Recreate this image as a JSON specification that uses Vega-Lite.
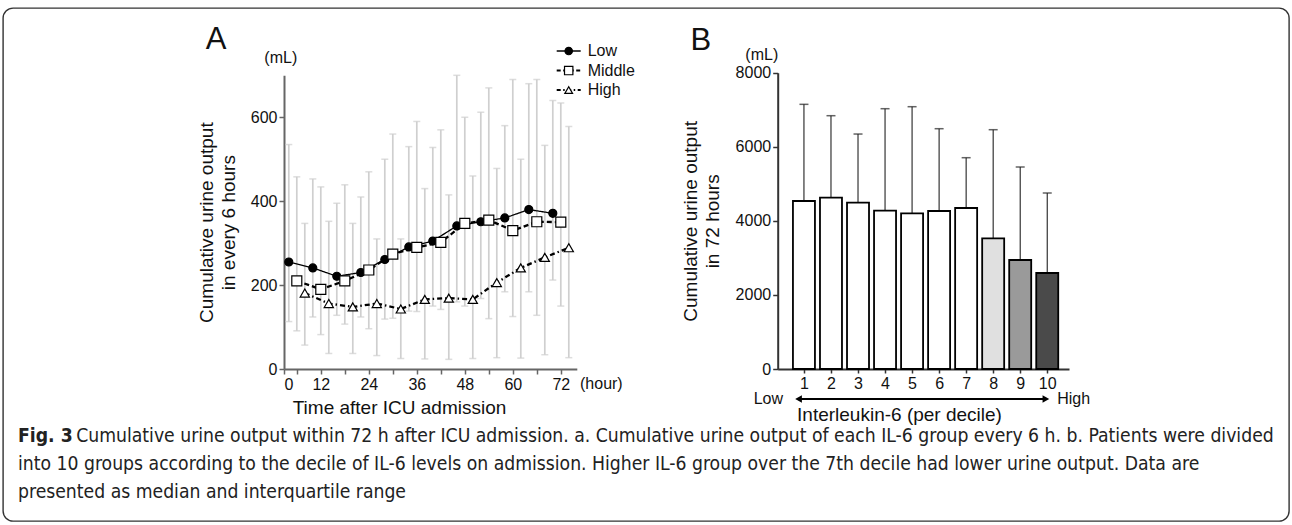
{
  "$schema": "https://vega.github.io/schema/vega-lite/v6.json",
  "width": 1286,
  "height": 513,
  "autosize": "none",
  "padding": {"left": 3, "top": 8, "right": 3, "bottom": 4},
  "background": "white",
  "config": {
    "view": {"stroke": "#333333", "strokeWidth": 1.4, "cornerRadius": 10, "fill": "white"},
    "font": "Liberation Sans",
    "axis": {
      "labelFont": "Liberation Sans", "labelFontSize": 16, "labelColor": "#111111",
      "titleFont": "Liberation Sans", "titleFontSize": 19, "titleFontWeight": "normal", "titleColor": "#111111",
      "grid": false, "tickColor": "#333333", "domainColor": "#333333", "domainWidth": 2, "tickWidth": 1.5, "tickSize": 5,
      "titleLineHeight": 22
    }
  },
  "datasets": {
    "timecourse": [
      {"group": "Low", "hour": 4, "median": 255, "lo": 113, "hi": 535},
      {"group": "Low", "hour": 10, "median": 241, "lo": 124, "hi": 453},
      {"group": "Low", "hour": 16, "median": 221, "lo": 128, "hi": 395},
      {"group": "Low", "hour": 22, "median": 230, "lo": 124, "hi": 410},
      {"group": "Low", "hour": 28, "median": 261, "lo": 119, "hi": 500},
      {"group": "Low", "hour": 34, "median": 291, "lo": 138, "hi": 530},
      {"group": "Low", "hour": 40, "median": 305, "lo": 150, "hi": 528},
      {"group": "Low", "hour": 46, "median": 341, "lo": 160, "hi": 700},
      {"group": "Low", "hour": 52, "median": 351, "lo": 168, "hi": 612},
      {"group": "Low", "hour": 58, "median": 360, "lo": 184, "hi": 580},
      {"group": "Low", "hour": 64, "median": 380, "lo": 184, "hi": 680},
      {"group": "Low", "hour": 70, "median": 371, "lo": 212, "hi": 640},
      {"group": "Middle", "hour": 6, "median": 210, "lo": 91, "hi": 458},
      {"group": "Middle", "hour": 12, "median": 190, "lo": 82, "hi": 434},
      {"group": "Middle", "hour": 18, "median": 210, "lo": 107, "hi": 439},
      {"group": "Middle", "hour": 24, "median": 236, "lo": 96, "hi": 470},
      {"group": "Middle", "hour": 30, "median": 274, "lo": 121, "hi": 560},
      {"group": "Middle", "hour": 36, "median": 290, "lo": 137, "hi": 590},
      {"group": "Middle", "hour": 42, "median": 302, "lo": 142, "hi": 570},
      {"group": "Middle", "hour": 48, "median": 347, "lo": 150, "hi": 600},
      {"group": "Middle", "hour": 54, "median": 355, "lo": 120, "hi": 670},
      {"group": "Middle", "hour": 60, "median": 330, "lo": 125, "hi": 690},
      {"group": "Middle", "hour": 66, "median": 351, "lo": 128, "hi": 690},
      {"group": "Middle", "hour": 72, "median": 350, "lo": 150, "hi": 634},
      {"group": "High", "hour": 8, "median": 181, "lo": 57, "hi": 347},
      {"group": "High", "hour": 14, "median": 156, "lo": 37, "hi": 352},
      {"group": "High", "hour": 20, "median": 148, "lo": 37, "hi": 347},
      {"group": "High", "hour": 26, "median": 156, "lo": 32, "hi": 310},
      {"group": "High", "hour": 32, "median": 143, "lo": 25, "hi": 310},
      {"group": "High", "hour": 38, "median": 166, "lo": 24, "hi": 430},
      {"group": "High", "hour": 44, "median": 169, "lo": 23, "hi": 415},
      {"group": "High", "hour": 50, "median": 166, "lo": 25, "hi": 460},
      {"group": "High", "hour": 56, "median": 206, "lo": 27, "hi": 478},
      {"group": "High", "hour": 62, "median": 241, "lo": 26, "hi": 500},
      {"group": "High", "hour": 68, "median": 266, "lo": 34, "hi": 533},
      {"group": "High", "hour": 74, "median": 289, "lo": 27, "hi": 578}
    ],
    "groups": [
      {"group": "Low"},
      {"group": "Middle"},
      {"group": "High"}
    ],
    "decile": [
      {"decile": 1, "median": 4536, "upper": 7146},
      {"decile": 2, "median": 4626, "upper": 6839},
      {"decile": 3, "median": 4490, "upper": 6344},
      {"decile": 4, "median": 4275, "upper": 7028},
      {"decile": 5, "median": 4203, "upper": 7082},
      {"decile": 6, "median": 4266, "upper": 6488},
      {"decile": 7, "median": 4347, "upper": 5705},
      {"decile": 8, "median": 3528, "upper": 6461},
      {"decile": 9, "median": 2943, "upper": 5454},
      {"decile": 10, "median": 2592, "upper": 4752}
    ],
    "caption": [
      {"line": 2, "text": "into 10 groups according to the decile of IL-6 levels on admission. Higher IL-6 group over the 7th decile had lower urine output. Data are"},
      {"line": 3, "text": "presented as median and interquartile range"}
    ]
  },
  "layer": [
    {
      "data": {"name": "timecourse"},
      "layer": [
        {
          "mark": {"type": "rule", "color": "#cfcfcf", "strokeWidth": 1.7},
          "encoding": {
            "x": {
              "field": "hour", "type": "quantitative",
              "scale": {"domain": [2.8, 76], "range": [281, 573.8], "nice": false, "zero": false},
              "axis": {
                "orient": "bottom", "offset": -152,
                "values": [2.8, 6, 12, 18, 24, 30, 36, 42, 48, 54, 60, 66, 72],
                "labelExpr": "datum.value < 3 ? '0' : (datum.value % 12 === 0 ? datum.label : '')",
                "title": "Time after ICU admission", "titleX": 396, "titlePadding": 6,
                "domainColor": "#666666", "tickColor": "#666666"
              }
            },
            "y": {
              "field": "lo", "type": "quantitative",
              "scale": {"domain": [0, 700], "range": [361, 67.3], "nice": false},
              "axis": {
                "orient": "left", "offset": -281, "values": [0, 200, 400, 600],
                "title": ["Cumulative urine output", "in every 6 hours"], "titlePadding": 12,
                "domainColor": "#666666", "tickColor": "#666666"
              }
            },
            "y2": {"field": "hi"}
          }
        },
        {
          "mark": {"type": "tick", "orient": "horizontal", "color": "#cfcfcf", "size": 7, "thickness": 1.5},
          "encoding": {
            "x": {"field": "hour", "type": "quantitative"},
            "y": {"field": "hi", "type": "quantitative"}
          }
        },
        {
          "mark": {"type": "tick", "orient": "horizontal", "color": "#cfcfcf", "size": 7, "thickness": 1.5},
          "encoding": {
            "x": {"field": "hour", "type": "quantitative"},
            "y": {"field": "lo", "type": "quantitative"}
          }
        },
        {
          "mark": {"type": "line", "color": "black"},
          "encoding": {
            "x": {"field": "hour", "type": "quantitative"},
            "y": {"field": "median", "type": "quantitative"},
            "detail": {"field": "group", "type": "nominal"},
            "strokeDash": {
              "condition": [
                {"test": "datum.group === 'Middle'", "value": [5, 3]},
                {"test": "datum.group === 'High'", "value": [5, 3, 1.5, 3]}
              ],
              "value": [1, 0]
            },
            "strokeWidth": {"condition": {"test": "datum.group === 'Low'", "value": 1.3}, "value": 2.3}
          }
        },
        {
          "mark": {"type": "point", "filled": true, "stroke": "black", "strokeWidth": 1.2, "opacity": 1},
          "encoding": {
            "x": {"field": "hour", "type": "quantitative"},
            "y": {"field": "median", "type": "quantitative"},
            "shape": {
              "field": "group", "type": "nominal",
              "scale": {"domain": ["Low", "Middle", "High"], "range": ["circle", "square", "triangle-up"]},
              "legend": null
            },
            "fill": {"condition": {"test": "datum.group === 'Low'", "value": "black"}, "value": "white"},
            "size": {"condition": [
              {"test": "datum.group === 'Low'", "value": 64},
              {"test": "datum.group === 'Middle'", "value": 100}
            ], "value": 85}
          }
        },
        {
          "data": {"values": [{}]},
          "mark": {"type": "text", "fontSize": 31, "font": "Liberation Sans", "color": "#111111", "align": "center", "baseline": "middle"},
          "encoding": {"x": {"datum": -14.2}, "y": {"datum": 783}, "text": {"value": "A"}}
        },
        {
          "data": {"values": [{}]},
          "mark": {"type": "text", "fontSize": 16, "font": "Liberation Sans", "color": "#111111", "align": "center", "baseline": "middle"},
          "encoding": {"x": {"datum": 2.0}, "y": {"datum": 742}, "text": {"value": "(mL)"}}
        },
        {
          "data": {"values": [{}]},
          "mark": {"type": "text", "fontSize": 16, "font": "Liberation Sans", "color": "#111111", "align": "left", "baseline": "middle"},
          "encoding": {"x": {"datum": 76.8}, "y": {"datum": -35}, "text": {"value": "(hour)"}}
        }
      ]
    },
    {
      "data": {"name": "groups"},
      "layer": [
        {
          "mark": {"type": "rule", "color": "black"},
          "encoding": {
            "x": {"datum": 0, "type": "quantitative", "scale": {"domain": [0, 1], "range": [553.7, 577.7]}, "axis": null},
            "x2": {"datum": 1},
            "y": {"field": "group", "type": "nominal", "scale": {"domain": ["Low", "Middle", "High"], "range": [33.3, 91.8], "padding": 0}, "axis": null},
            "strokeDash": {
              "condition": [
                {"test": "datum.group === 'Middle'", "value": [4, 2.5]},
                {"test": "datum.group === 'High'", "value": [4, 2.5, 1.5, 2.5]}
              ],
              "value": [1, 0]
            },
            "strokeWidth": {"condition": {"test": "datum.group === 'Low'", "value": 1.5}, "value": 2}
          }
        },
        {
          "mark": {"type": "point", "filled": true, "stroke": "black", "strokeWidth": 1.2, "opacity": 1},
          "encoding": {
            "x": {"datum": 0.5, "type": "quantitative"},
            "y": {"field": "group", "type": "nominal"},
            "shape": {
              "field": "group", "type": "nominal",
              "scale": {"domain": ["Low", "Middle", "High"], "range": ["circle", "square", "triangle-up"]},
              "legend": null
            },
            "fill": {"condition": {"test": "datum.group === 'Low'", "value": "black"}, "value": "white"},
            "size": {"condition": [
              {"test": "datum.group === 'Low'", "value": 55},
              {"test": "datum.group === 'Middle'", "value": 70}
            ], "value": 60}
          }
        },
        {
          "mark": {"type": "text", "align": "left", "baseline": "middle", "font": "Liberation Sans", "fontSize": 16, "color": "#111111"},
          "encoding": {
            "x": {"datum": 1.29, "type": "quantitative"},
            "y": {"field": "group", "type": "nominal"},
            "text": {"field": "group"}
          }
        }
      ]
    },
    {
      "data": {"name": "decile"},
      "layer": [
        {
          "mark": {"type": "rule", "color": "#222222", "strokeWidth": 1.1},
          "encoding": {
            "x": {
              "field": "decile", "type": "quantitative",
              "scale": {"domain": [0.214, 10.62], "range": [774.7, 1066], "nice": false, "zero": false},
              "axis": {
                "orient": "bottom", "offset": -152, "values": [1, 2, 3, 4, 5, 6, 7, 8, 9, 10], "format": "d",
                "tickSize": 4, "title": "Interleukin-6 (per decile)", "titleX": 896, "titlePadding": 14
              }
            },
            "y": {
              "field": "median", "type": "quantitative",
              "scale": {"domain": [0, 8000], "range": [361, 64.7], "nice": false},
              "axis": {
                "orient": "left", "offset": -774.7, "values": [0, 2000, 4000, 6000, 8000], "format": "d",
                "title": ["Cumulative urine output", "in 72 hours"], "titlePadding": 13
              }
            },
            "y2": {"field": "upper"}
          }
        },
        {
          "mark": {"type": "tick", "orient": "horizontal", "color": "#222222", "size": 9, "thickness": 1.5},
          "encoding": {
            "x": {"field": "decile", "type": "quantitative"},
            "y": {"field": "upper", "type": "quantitative"}
          }
        },
        {
          "mark": {"type": "bar", "orient": "vertical", "width": 22, "stroke": "black", "strokeWidth": 1.8},
          "encoding": {
            "x": {"field": "decile", "type": "quantitative"},
            "y": {"field": "median", "type": "quantitative", "stack": null},
            "color": {
              "field": "decile", "type": "nominal",
              "scale": {"domain": [1, 2, 3, 4, 5, 6, 7, 8, 9, 10], "range": ["white", "white", "white", "white", "white", "white", "white", "#e0e0e0", "#9a9a9a", "#4a4a4a"]},
              "legend": null
            }
          }
        },
        {
          "data": {"values": [{}]},
          "mark": {"type": "text", "fontSize": 31, "font": "Liberation Sans", "color": "#111111", "align": "center", "baseline": "middle"},
          "encoding": {"x": {"datum": -2.81}, "y": {"datum": 8869}, "text": {"value": "B"}}
        },
        {
          "data": {"values": [{}]},
          "mark": {"type": "text", "fontSize": 16, "font": "Liberation Sans", "color": "#111111", "align": "center", "baseline": "middle"},
          "encoding": {"x": {"datum": -0.56}, "y": {"datum": 8491}, "text": {"value": "(mL)"}}
        },
        {
          "data": {"values": [{}]},
          "mark": {"type": "text", "fontSize": 16, "font": "Liberation Sans", "color": "#111111", "align": "right", "baseline": "middle"},
          "encoding": {"x": {"datum": 0.225}, "y": {"datum": -810}, "text": {"value": "Low"}}
        },
        {
          "data": {"values": [{}]},
          "mark": {"type": "text", "fontSize": 16, "font": "Liberation Sans", "color": "#111111", "align": "left", "baseline": "middle"},
          "encoding": {"x": {"datum": 10.37}, "y": {"datum": -810}, "text": {"value": "High"}}
        },
        {
          "data": {"values": [{}]},
          "mark": {"type": "rule", "color": "black", "strokeWidth": 2},
          "encoding": {"x": {"datum": 0.85}, "x2": {"datum": 9.9}, "y": {"datum": -810}}
        },
        {
          "data": {"values": [{}]},
          "mark": {"type": "point", "shape": "triangle-left", "filled": true, "color": "black", "size": 60, "opacity": 1},
          "encoding": {"x": {"datum": 0.8}, "y": {"datum": -810}}
        },
        {
          "data": {"values": [{}]},
          "mark": {"type": "point", "shape": "triangle-right", "filled": true, "color": "black", "size": 60, "opacity": 1},
          "encoding": {"x": {"datum": 9.95}, "y": {"datum": -810}}
        }
      ]
    },
    {
      "data": {"name": "caption"},
      "layer": [
        {
          "mark": {"type": "text", "align": "left", "baseline": "middle", "font": "DejaVu Sans Condensed, Liberation Sans", "fontSize": 19.2, "color": "#222222"},
          "encoding": {
            "x": {"datum": 0, "type": "quantitative", "scale": {"domain": [0, 100], "range": [15, 1280]}, "axis": null},
            "y": {"field": "line", "type": "quantitative", "scale": {"domain": [1, 3], "range": [428, 484]}, "axis": null},
            "text": {"field": "text"}
          }
        },
        {
          "data": {"values": [{"line": 1, "text": "Cumulative urine output within 72 h after ICU admission. a. Cumulative urine output of each IL-6 group every 6 h. b. Patients were divided"}]},
          "mark": {"type": "text", "align": "left", "baseline": "middle", "font": "DejaVu Sans Condensed, Liberation Sans", "fontSize": 19.2, "color": "#222222"},
          "encoding": {
            "x": {"datum": 4.6, "type": "quantitative"},
            "y": {"field": "line", "type": "quantitative"},
            "text": {"field": "text"}
          }
        },
        {
          "data": {"values": [{"line": 1, "text": "Fig. 3"}]},
          "mark": {"type": "text", "align": "left", "baseline": "middle", "font": "DejaVu Sans Condensed, Liberation Sans", "fontSize": 19.2, "fontWeight": "bold", "color": "#222222"},
          "encoding": {
            "x": {"datum": 0, "type": "quantitative"},
            "y": {"field": "line", "type": "quantitative"},
            "text": {"field": "text"}
          }
        }
      ]
    }
  ],
  "resolve": {
    "scale": {"x": "independent", "y": "independent"},
    "axis": {"x": "independent", "y": "independent"}
  }
}
